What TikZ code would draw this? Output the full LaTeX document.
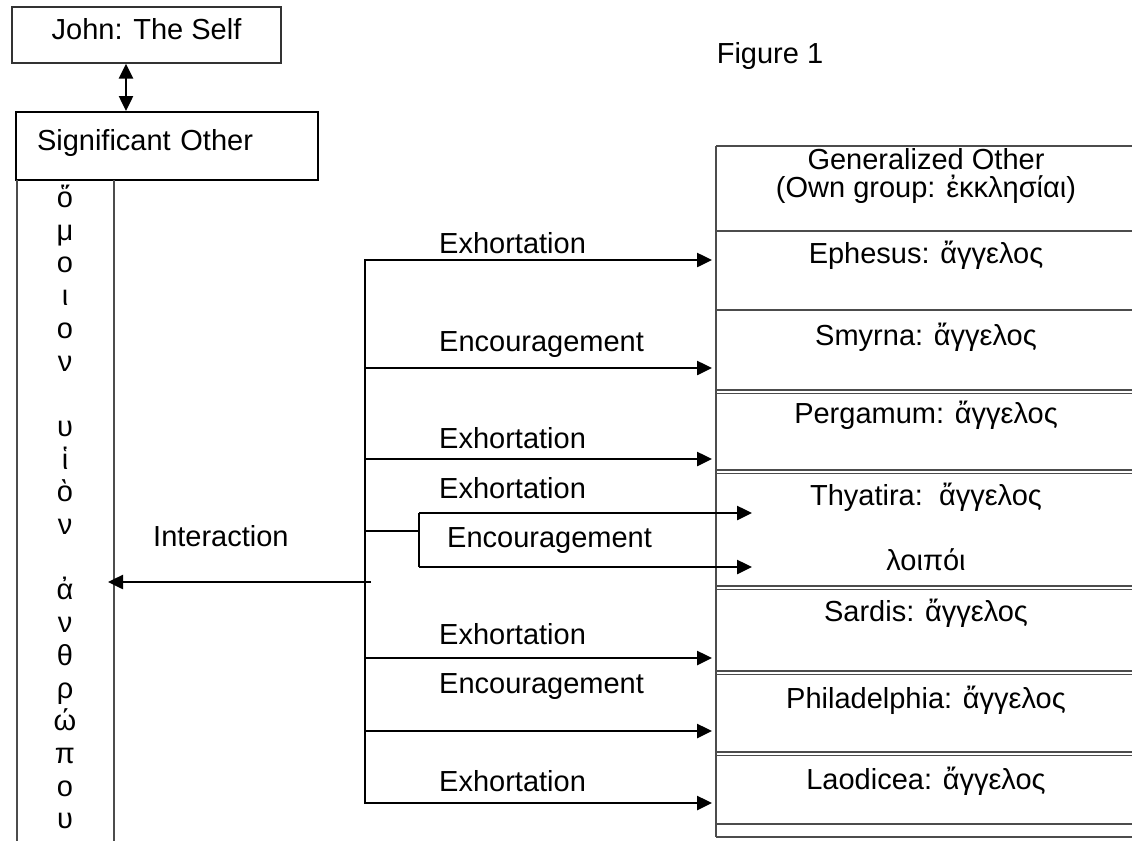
\documentclass[tikz,border=0pt]{standalone}
\usepackage{fontspec}
\setmainfont{Liberation Sans}
\usetikzlibrary{arrows.meta}
\begin{document}
\begin{tikzpicture}[x=1pt,y=-1pt,
  every node/.style={font=\fontsize{29}{34}\selectfont, inner sep=0pt},
  thinln/.style={draw=black!70, line width=1.4pt},
  arr/.style={line width=2.5pt, -{Triangle[length=15pt,width=14pt]}},
  dblarr/.style={line width=2.5pt, {Triangle[length=15pt,width=14pt]}-{Triangle[length=15pt,width=14pt]}},
  lbl/.style={anchor=base west},
  ctext/.style={anchor=base},
  greek/.style={anchor=base}]
\useasboundingbox (0,0) rectangle (1132,841);

% top boxes
\node[draw=black!80, line width=1.4pt, minimum width=269pt, minimum height=56pt,
      text height=21pt, text depth=13pt] (john) at (146.5,35) {John: The Self};
\node[draw=black, line width=2pt, minimum height=68pt, text width=260pt, inner xsep=21pt,
      align=left, text height=21pt, text depth=13pt] (sig) at (167,146) {Significant Other};
\coordinate (ax) at (126,0);
\draw[dblarr] (john.south -| ax) -- (sig.north -| ax);

% left column
\coordinate (c1t) at (17,180);  \coordinate (c1b) at (17,841);
\coordinate (c2t) at (114,180); \coordinate (c2b) at (114,841);
\draw[thinln] (c1t) -- (c1b);
\draw[thinln] (c2t) -- (c2b);
\foreach \k/\c [count=\n] in {0/ὅ,1/μ,2/ο,3/ι,4/ο,5/ν,7/υ,8/ἱ,9/ὸ,10/ν,12/ἀ,13/ν,14/θ,15/ρ,16/ώ,17/π,18/ο,19/υ}
  \node[greek] (g\n) at (65,{207.5+32.7*\k}) {\c};

% figure caption
\node[ctext] (fig) at (770,63) {Figure 1};

% right column
\coordinate (rt) at (716,146); \coordinate (rb) at (716,837);
\draw[thinln] (rt) -- (rb);
\foreach \y in {146,231,310,824,837} \draw[thinln] (716,\y) -- (1132,\y);
\foreach \y in {390,470,586,671,752} {
  \draw[thinln] (716,\y) -- (1132,\y);
  \draw[thinln] (716,\y+3.5) -- (1132,\y+3.5);
}
\node[ctext] (go1) at (926,169) {Generalized Other};
\node[ctext] (go2) at (926,197) {(Own group: ἐκκλησίαι)};
\node[ctext] (eph) at (926,263) {Ephesus: ἄγγελος};
\node[ctext] (smy) at (926,345) {Smyrna: ἄγγελος};
\node[ctext] (per) at (926,423) {Pergamum: ἄγγελος};
\node[ctext] (thy) at (926,505) {Thyatira:\ \ ἄγγελος};
\node[ctext] (loi) at (926,570) {λοιπόι};
\node[ctext] (sar) at (926,621) {Sardis: ἄγγελος};
\node[ctext] (phi) at (926,708) {Philadelphia: ἄγγελος};
\node[ctext] (lao) at (926,789) {Laodicea: ἄγγελος};

% arrows
\foreach \y [count=\i] in {260,368,459,658,731,803} {
  \coordinate (t\i) at (365,\y);
  \coordinate (e\i) at (712,\y);
  \draw[arr] (t\i) -- (e\i);
}
\draw[line width=2.2pt, line cap=rect] (t1) -- (t6);

% Thyatira branch
\coordinate (b0) at (365,531); \coordinate (b1) at (419,531);
\coordinate (b2) at (419,513); \coordinate (b3) at (419,567);
\coordinate (f2) at (752,513); \coordinate (f3) at (752,567);
\draw[line width=1.5pt] (b0) -- (b1);
\draw[line width=2pt] (b2) -- (b3);
\draw[arr] (b2) -- (f2);
\draw[arr] (b3) -- (f3);

% Interaction
\coordinate (i0) at (371,582); \coordinate (i1) at (108,582);
\draw[arr] (i0) -- (i1);

% labels
\node[lbl] (l1) at (439,253) {Exhortation};
\node[lbl] (l2) at (439,351) {Encouragement};
\node[lbl] (l3) at (439,448) {Exhortation};
\node[lbl] (l4) at (439,498) {Exhortation};
\node[lbl] (l5) at (447,547) {Encouragement};
\node[lbl] (l6) at (153,546) {Interaction};
\node[lbl] (l7) at (439,644) {Exhortation};
\node[lbl] (l8) at (439,693) {Encouragement};
\node[lbl] (l9) at (439,791) {Exhortation};
\end{tikzpicture}
\end{document}
